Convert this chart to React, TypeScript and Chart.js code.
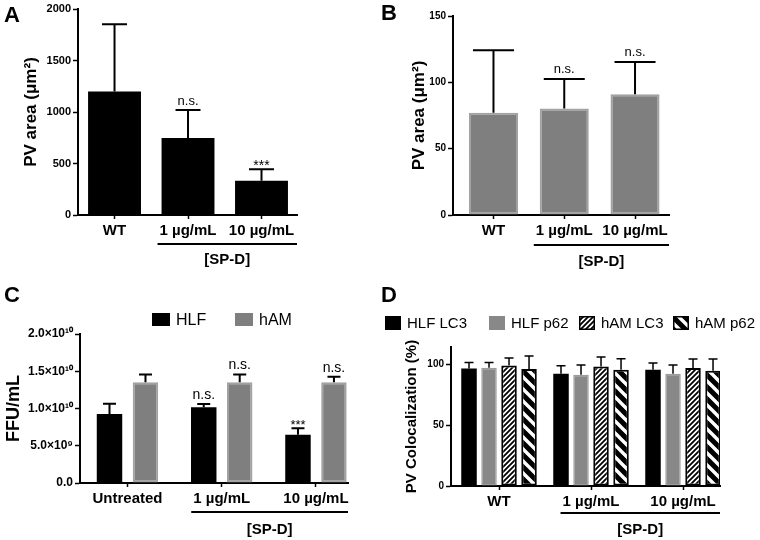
import React, { useEffect, useRef } from "react";
import { Chart, registerables } from "chart.js";
Chart.register(...registerables);

const FONT = "'Liberation Sans', Arial, Helvetica, sans-serif";

// ---------- Data ----------
const abCategories = ["WT", "1 µg/mL", "10 µg/mL"];
const cCategories = ["Untreated", "1 µg/mL", "10 µg/mL"];
const bracketLabel = "[SP-D]";

// Panel A
const aMeans = [1200, 748, 333];
const aSD = [651, 271, 110];
const aSig = ["", "n.s.", "***"];
const aTicks = [0, 500, 1000, 1500, 2000];

// Panel B
const bMeans = [77, 80.3, 91];
const bSD = [47.2, 22.3, 24.4];
const bSig = ["", "n.s.", "n.s."];
const bTicks = [0, 50, 100, 150];

// Panel C
const cSeries = ["HLF", "hAM"];
const cHLF = [9.25e9, 1.016e10, 6.46e9];
const cHLFSD = [1.4e9, 0.45e9, 0.9e9];
const cHLFSig = ["", "n.s.", "***"];
const cHAM = [1.354e10, 1.354e10, 1.354e10];
const cHAMSD = [1.04e9, 1.04e9, 0.73e9];
const cHAMSig = ["", "n.s.", "n.s."];
const cTicks = [0, 5e9, 1e10, 1.5e10, 2e10];

// Panel D
const dSeries = ["HLF LC3", "HLF p62", "hAM LC3", "hAM p62"];
const dHLFLC3 = [96.3, 92.0, 95.3];
const dHLFLC3SD = [4.9, 6.6, 5.5];
const dHLFp62 = [97.0, 91.2, 92.0];
const dHLFp62SD = [4.3, 8.0, 7.2];
const dHAMLC3 = [98.8, 98.1, 96.7];
const dHAMLC3SD = [6.1, 7.7, 7.4];
const dHAMp62 = [96.0, 95.3, 94.5];
const dHAMp62SD = [10.7, 9.1, 9.6];
const dTicks = [0, 50, 100];

// ---------- helpers ----------
const SUP: Record<string, string> = {
  "0": "⁰", "1": "¹", "2": "²", "3": "³", "4": "⁴",
  "5": "⁵", "6": "⁶", "7": "⁷", "8": "⁸", "9": "⁹",
};
function sci(v: number) {
  if (v === 0) return "0.0";
  const e = Math.floor(Math.log10(v) + 1e-9);
  const m = v / Math.pow(10, e);
  return m.toFixed(1) + "×10" + String(e).split("").map((d) => SUP[d]).join("");
}

function hatch(kind: "fwd" | "back") {
  const c = document.createElement("canvas");
  const p = kind === "fwd" ? 5 : 12;
  c.width = p;
  c.height = p;
  const g = c.getContext("2d")!;
  g.fillStyle = kind === "fwd" ? "#ffffff" : "#000000";
  g.fillRect(0, 0, p, p);
  g.strokeStyle = kind === "fwd" ? "#000000" : "#ffffff";
  g.lineWidth = kind === "fwd" ? 1.8 : 3.4;
  g.beginPath();
  if (kind === "fwd") {
    for (const k of [0, p, 2 * p]) {
      g.moveTo(k - (p + 2), p + 2);
      g.lineTo(k + 2, -2);
    }
  } else {
    for (const k of [-p, 0, p]) {
      g.moveTo(k - 2, -2);
      g.lineTo(k + p + 2, p + 2);
    }
  }
  g.stroke();
  return g.createPattern(c, "repeat")!;
}

type DS = {
  label: string;
  values: number[];
  sd: number[];
  sig?: string[];
  fill: any;
  border?: string;
  borderWidth?: number;
  legendStroke?: boolean;
};

type Spec = {
  categories: string[];
  datasets: DS[];
  area: { left: number; top: number; right: number; bottom: number };
  xMin: number;
  xMax: number;
  catPct: number;
  barPct: number;
  yMax: number;
  yTicks: number[];
  yFmt: (v: number) => string;
  yTickFont: number;
  yTitle: string;
  yTitleSize: number;
  yTitleX: number;
  cap: number;
  errWidth: number;
  bracketY: number;
  bracketTextY: number;
  nsFont: number;
  nsOff: number;
  starFont: number;
  starOff: number;
  legend?: { y: number; xs: number[]; bw: number; bh: number; dx: number; font: number };
};

const W = 380;
const H = 270;

function buildChart(canvas: HTMLCanvasElement, spec: Spec) {
  const deco = {
    id: "deco",
    afterDatasetsDraw(chart: any) {
      const ctx = chart.ctx;
      const ys = chart.scales.y;
      spec.datasets.forEach((ds, i) => {
        const meta = chart.getDatasetMeta(i);
        meta.data.forEach((el: any, j: number) => {
          const top = ys.getPixelForValue(ds.values[j] + ds.sd[j]);
          ctx.save();
          ctx.strokeStyle = "#000";
          ctx.lineWidth = spec.errWidth;
          ctx.beginPath();
          ctx.moveTo(el.x, el.y);
          ctx.lineTo(el.x, top);
          ctx.moveTo(el.x - spec.cap / 2, top);
          ctx.lineTo(el.x + spec.cap / 2, top);
          ctx.stroke();
          const s = ds.sig ? ds.sig[j] : "";
          if (s) {
            const star = s.indexOf("*") >= 0;
            ctx.fillStyle = "#000";
            ctx.textAlign = "center";
            ctx.textBaseline = "alphabetic";
            ctx.font = `${star ? spec.starFont : spec.nsFont}px ${FONT}`;
            ctx.fillText(s, el.x, top + (star ? spec.starOff : spec.nsOff));
          }
          ctx.restore();
        });
      });
    },
    afterDraw(chart: any) {
      const ctx = chart.ctx;
      const xs = chart.scales.x;
      ctx.save();
      ctx.fillStyle = "#000";
      ctx.font = `bold 15px ${FONT}`;
      const w1 = ctx.measureText(spec.categories[1]).width;
      const left = xs.getPixelForValue(1) - w1 / 2 - 2;
      const right = chart.chartArea.right;
      ctx.fillRect(left, spec.bracketY - 1, right - left, 2);
      ctx.textAlign = "center";
      ctx.textBaseline = "middle";
      ctx.fillText(bracketLabel, (left + right) / 2, spec.bracketTextY);
      if (spec.legend) {
        const L = spec.legend;
        spec.datasets.forEach((ds, i) => {
          const bx = L.xs[i];
          const by = L.y - L.bh / 2;
          ctx.fillStyle = ds.fill;
          ctx.fillRect(bx, by, L.bw, L.bh);
          if (ds.legendStroke) {
            ctx.strokeStyle = "#000";
            ctx.lineWidth = 1.5;
            ctx.strokeRect(bx + 0.75, by + 0.75, L.bw - 1.5, L.bh - 1.5);
          }
          ctx.fillStyle = "#000";
          ctx.font = `${L.font}px ${FONT}`;
          ctx.textAlign = "left";
          ctx.textBaseline = "middle";
          ctx.fillText(ds.label, bx + L.dx, L.y + 1);
        });
      }
      ctx.restore();
    },
  };

  const a = spec.area;
  const titleLH = spec.yTitleSize * 1.2;
  return new Chart(canvas, {
    type: "bar",
    data: {
      datasets: spec.datasets.map((ds) => ({
        label: ds.label,
        data: ds.values.map((v, i) => ({ x: i, y: v })),
        backgroundColor: ds.fill,
        borderColor: ds.border || "rgba(0,0,0,0)",
        borderWidth: ds.borderWidth || 0,
        borderSkipped: false,
        categoryPercentage: spec.catPct,
        barPercentage: spec.barPct,
      })),
    },
    options: {
      animation: false,
      responsive: false,
      devicePixelRatio: 1,
      events: [],
      layout: {
        padding: { left: 0, top: a.top, right: W - a.right, bottom: 0 },
      },
      plugins: {
        legend: { display: false },
        tooltip: { enabled: false },
        title: { display: false },
      },
      scales: {
        x: {
          type: "linear",
          min: spec.xMin,
          max: spec.xMax,
          offset: false,
          afterBuildTicks: (s: any) => {
            s.ticks = spec.categories.map((_, i) => ({ value: i }));
          },
          afterFit: (s: any) => {
            s.height = H - a.bottom;
          },
          ticks: {
            callback: (v: any) => spec.categories[Math.round(v)] ?? "",
            font: { family: FONT, size: 15, weight: "bold" },
            color: "#000",
            padding: 3,
            autoSkip: false,
            maxRotation: 0,
            minRotation: 0,
          },
          grid: {
            display: true,
            drawOnChartArea: false,
            drawTicks: true,
            tickLength: 4,
            tickWidth: 1.5,
            tickColor: "#000",
            offset: false,
          },
          border: { display: true, color: "#000", width: 2 },
        },
        y: {
          type: "linear",
          min: 0,
          max: spec.yMax,
          afterBuildTicks: (s: any) => {
            s.ticks = spec.yTicks.map((v) => ({ value: v }));
          },
          afterFit: (s: any) => {
            s.width = a.left;
          },
          ticks: {
            callback: (v: any) => spec.yFmt(v),
            font: { family: FONT, size: spec.yTickFont, weight: "bold" },
            color: "#000",
            padding: 2,
          },
          grid: {
            display: true,
            drawOnChartArea: false,
            drawTicks: true,
            tickLength: 5,
            tickWidth: 1.5,
            tickColor: "#000",
          },
          border: { display: true, color: "#000", width: 2 },
          title: {
            display: true,
            text: spec.yTitle,
            color: "#000",
            font: { family: FONT, size: spec.yTitleSize, weight: "bold" },
            padding: { top: spec.yTitleX - titleLH / 2, bottom: 0 },
          },
        },
      },
    } as any,
    plugins: [deco],
  });
}

function Panel({ make, left, top }: { make: () => Spec; left: number; top: number }) {
  const ref = useRef<HTMLCanvasElement>(null);
  useEffect(() => {
    const chart = buildChart(ref.current!, make());
    return () => chart.destroy();
  }, []);
  return (
    <canvas
      ref={ref}
      width={W}
      height={H}
      style={{ position: "absolute", left, top, width: W, height: H }}
    />
  );
}

const GREY = "#7f7f7f";
const GREY_EDGE = "#a2a2a2";

const specA = (): Spec => ({
  categories: abCategories,
  datasets: [{ label: "A", values: aMeans, sd: aSD, sig: aSig, fill: "#000" }],
  area: { left: 78, top: 9, right: 297, bottom: 215 },
  xMin: -0.497,
  xMax: 2.483,
  catPct: 0.8,
  barPct: 0.9,
  yMax: 2000,
  yTicks: aTicks,
  yFmt: (v) => String(v),
  yTickFont: 11,
  yTitle: "PV area (μm²)",
  yTitleSize: 17,
  yTitleX: 31,
  cap: 25,
  errWidth: 2,
  bracketY: 244,
  bracketTextY: 260,
  nsFont: 13,
  nsOff: -5,
  starFont: 14,
  starOff: 1,
});

const specB = (): Spec => ({
  categories: abCategories,
  datasets: [
    { label: "B", values: bMeans, sd: bSD, sig: bSig, fill: GREY, border: GREY_EDGE, borderWidth: 2 },
  ],
  area: { left: 73, top: 16, right: 289, bottom: 215 },
  xMin: -0.572,
  xMax: 2.48,
  catPct: 0.77,
  barPct: 0.9,
  yMax: 150,
  yTicks: bTicks,
  yFmt: (v) => String(v),
  yTickFont: 10,
  yTitle: "PV area (μm²)",
  yTitleSize: 17,
  yTitleX: 39,
  cap: 41,
  errWidth: 2,
  bracketY: 245,
  bracketTextY: 262,
  nsFont: 13,
  nsOff: -6,
  starFont: 14,
  starOff: 1,
});

const specC = (): Spec => ({
  categories: cCategories,
  datasets: [
    { label: cSeries[0], values: cHLF, sd: cHLFSD, sig: cHLFSig, fill: "#000" },
    { label: cSeries[1], values: cHAM, sd: cHAMSD, sig: cHAMSig, fill: GREY, border: GREY_EDGE, borderWidth: 2 },
  ],
  area: { left: 80, top: 64, right: 348, bottom: 213 },
  xMin: -0.504,
  xMax: 2.34,
  catPct: 0.7635,
  barPct: 0.708,
  yMax: 2e10,
  yTicks: cTicks,
  yFmt: sci,
  yTickFont: 12,
  yTitle: "FFU/mL",
  yTitleSize: 18,
  yTitleX: 14,
  cap: 13,
  errWidth: 2,
  bracketY: 242,
  bracketTextY: 260,
  nsFont: 14,
  nsOff: -5,
  starFont: 13,
  starOff: 1,
  legend: { y: 49.5, xs: [152, 235], bw: 18, bh: 13, dx: 24, font: 16 },
});

const specD = (): Spec => ({
  categories: abCategories,
  datasets: [
    { label: dSeries[0], values: dHLFLC3, sd: dHLFLC3SD, fill: "#000" },
    { label: dSeries[1], values: dHLFp62, sd: dHLFp62SD, fill: "#888888", border: "#9c9c9c", borderWidth: 1.5 },
    { label: dSeries[2], values: dHAMLC3, sd: dHAMLC3SD, fill: hatch("fwd"), border: "#000", borderWidth: 2, legendStroke: true },
    { label: dSeries[3], values: dHAMp62, sd: dHAMp62SD, fill: hatch("back"), border: "#000", borderWidth: 2, legendStroke: true },
  ],
  area: { left: 71, top: 77, right: 340, bottom: 216 },
  xMin: -0.522,
  xMax: 2.402,
  catPct: 0.87,
  barPct: 0.775,
  yMax: 114,
  yTicks: dTicks,
  yFmt: (v) => String(v),
  yTickFont: 10,
  yTitle: "PV Colocalization (%)",
  yTitleSize: 15,
  yTitleX: 32,
  cap: 9,
  errWidth: 1.5,
  bracketY: 243,
  bracketTextY: 260,
  nsFont: 13,
  nsOff: -5,
  starFont: 14,
  starOff: 1,
  legend: { y: 53, xs: [5, 109, 199, 293], bw: 16, bh: 14, dx: 22, font: 15 },
});

const letterStyle = (left: number, top: number): React.CSSProperties => ({
  position: "absolute",
  left,
  top,
  font: `bold 22px ${FONT}`,
  lineHeight: "22px",
  color: "#000",
});

export default function App() {
  return (
    <div
      style={{
        position: "absolute",
        left: 0,
        top: 0,
        width: 760,
        height: 540,
        background: "#fff",
        overflow: "hidden",
      }}
    >
      <Panel make={specA} left={0} top={0} />
      <Panel make={specB} left={380} top={0} />
      <Panel make={specC} left={0} top={270} />
      <Panel make={specD} left={380} top={270} />
      <div style={letterStyle(4, 4)}>A</div>
      <div style={letterStyle(381, 2)}>B</div>
      <div style={letterStyle(4, 284)}>C</div>
      <div style={letterStyle(381, 284)}>D</div>
    </div>
  );
}
